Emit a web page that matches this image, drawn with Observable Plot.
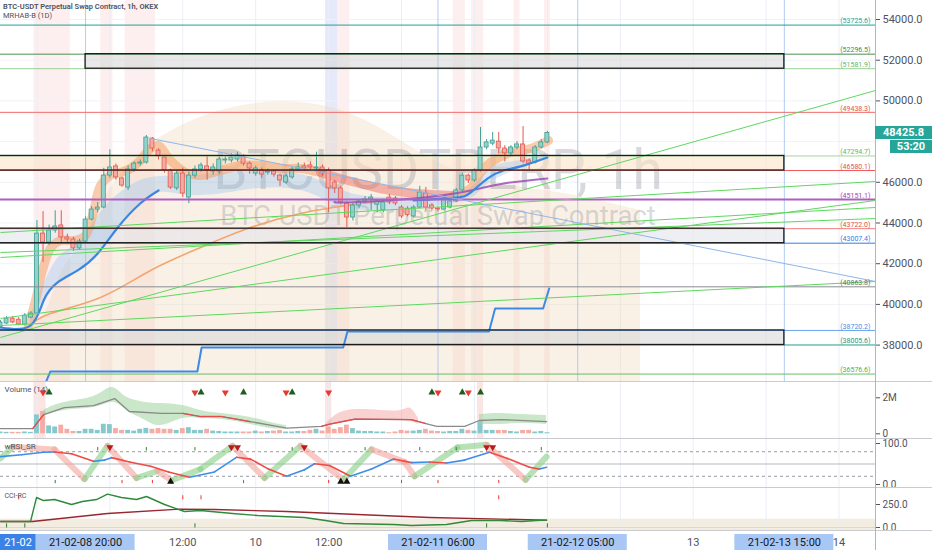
<!DOCTYPE html>
<html><head><meta charset="utf-8">
<script src="https://cdn.jsdelivr.net/npm/d3@7"></script>
<script src="https://cdn.jsdelivr.net/npm/@observablehq/plot@0.6"></script>
<style>
body{margin:0;background:#fff;}
#wrap{position:relative;width:932px;height:550px;overflow:hidden;font-family:Roboto,"DejaVu Sans",sans-serif;background:#fff;}
#wrap svg{position:absolute;left:0;}
.lbl{position:absolute;white-space:nowrap;color:#4c525e;}
.sep{position:absolute;left:0;width:932px;height:1px;background:#c9cbd1;}
</style></head><body><div id="wrap"></div><script>
// ---------------- DATA (hours relative to 21-02-10 00:00) ----------------
const candleStartHour = -42; // first candle 21-02-08 06:00
const opens  = [38870,39060,39300,39250,39010,39350,39550,43480,43040,43630,43880,43290,43190,42750,43090,44170,44660,44760,46330,46780,46190,45740,46630,46920,46970,48150,47560,47220,46580,45700,46430,45250,46330,46630,46780,46530,46530,47070,47070,47120,47270,46920,46430,46580,46480,46530,46330,45990,46240,46630,46780,46830,46680,46730,46580,45990,45700,44960,44270,44860,45060,45160,44900,44620,45250,45200,44760,44700,44320,44760,45450,44860,44710,44660,44760,45060,45600,46330,46090,46580,47710,47900,48000,47660,47420,47710,47860,47070,46970,47710,47960];
const highs  = [39200,39400,39400,39350,39550,39650,44120,44560,43900,44600,44600,43450,43300,43200,44300,44800,45000,46690,47600,46900,46250,46800,47000,47100,48300,48200,47650,47300,46650,46550,46700,46500,46800,46950,47300,46900,47250,47250,47400,47480,47350,47000,46800,46700,46650,46600,46400,46400,46750,46950,46950,47000,47480,46850,46700,46100,45800,45050,44950,45150,45300,45400,45150,45100,45400,45300,44850,44800,44850,45800,45750,44950,44750,45250,45150,45700,46450,46400,46650,48690,48100,48450,48450,47800,47800,48000,48740,47150,47800,48100,48500];
const lows   = [38800,39000,39050,38950,38950,39300,39500,42060,42900,43500,43000,43000,42600,42700,43000,44100,44500,44700,46200,46100,45750,45600,46500,46800,46900,47500,47100,46450,45650,45600,45250,44950,46200,46500,46100,46350,46400,46900,46950,47000,46800,46400,46300,46200,46350,46250,45800,45900,46150,46550,46550,46600,46600,46300,44500,45450,44900,43780,44100,44700,44950,44610,44500,44500,44900,44850,44220,44300,44250,44700,44600,44600,44550,44600,44700,45000,45550,45950,46000,46500,47600,47800,47400,47000,47300,47600,46950,46600,46900,47650,47900];
const closes = [39110,39300,39110,39010,39450,39550,43480,43040,43630,43830,43290,43190,42750,43090,44170,44660,44760,46330,46730,46240,45840,46630,46920,46970,48200,47660,47270,46580,45740,46430,45450,46330,46630,46830,46580,46730,47120,47120,47220,47320,46920,46680,46680,46380,46530,46380,46090,46290,46630,46730,46680,46730,46730,46480,45700,45700,45010,44270,44860,45060,45160,45250,45060,45010,45010,44960,44320,44400,44760,45500,44760,44710,44660,45160,45060,45600,46330,46090,46580,47710,47960,48050,47660,47420,47710,47860,47020,46920,47710,47960,48425.8];
const volumesM = [0.10,0.08,0.08,0.08,0.10,0.08,1.05,1.24,0.44,0.38,0.48,0.25,0.13,0.13,0.25,0.25,0.19,0.53,0.51,0.29,0.19,0.19,0.15,0.25,0.30,0.25,0.29,0.25,0.25,0.19,0.29,0.34,0.19,0.19,0.25,0.15,0.13,0.10,0.10,0.10,0.10,0.10,0.15,0.10,0.13,0.15,0.19,0.10,0.10,0.13,0.13,0.19,0.25,0.15,0.38,0.25,0.34,0.48,0.29,0.15,0.13,0.13,0.10,0.10,0.06,0.10,0.19,0.15,0.15,0.19,0.25,0.15,0.13,0.10,0.13,0.13,0.25,0.19,0.15,0.67,0.19,0.19,0.19,0.19,0.13,0.10,0.19,0.19,0.10,0.13,0.06];

// 48000.0 sits under the last-price tag in the reference, so it is not labelled
const priceTicks = [38000,40000,42000,44000,46000,50000,52000,54000];
const priceGrid = [38000,40000,42000,44000,46000,48000,50000,52000,54000];
const levelValues = [53725.6,52296.5,51581.9,49438.3,47294.7,46580.1,45151.1,43722.0,43007.4,40863.8,38720.2,38005.6,36576.6];
const boxTops    = [52296.5,47294.7,43722.0,38720.2];
const boxBottoms = [51581.9,46580.1,43007.4,38005.6];
const boxStarts  = [-28,-60,-60,-60];
const boxEnds    = [87,87,87,87];
// trend lines: [startHour, startPrice, endHour, endPrice]
const greenTrends = [[-42,38374,102,50511],[-42,43533,102,46039],[-42,39307,102,45106],[-42,42550,102,44221],[-42,42305,102,44762],[-42,38963,102,41125]];
const blueTrend = [[-17.3,48152,102,41125]];
const sessionBands = [[-36.5,-30.5],[-25.5,-23.5],[-21.5,-16.5],[13.5,15.5],[32.5,34.5],[35.5,37.5],[42.5,43.5],[47.5,48.5]];
const blueBands = [[11.5,13.5]];
const gridHours = [-36,-24,-12,0,12,24,36,48,60,72,84,96];
const selectedHours = [-28,30,53,87];

const blueLine1 = [[-42,38865],[-37.1,38960],[-34.9,40190],[-32.6,41080],[-29.3,41670],[-26,42500],[-22.7,43780],[-19,44960],[-16,45600]];
const blueLine2 = [[26,45110],[32.9,45250],[35.4,45500],[38.2,46190],[40.8,46580],[43.6,46780],[48,47220]];
const purpleLine = [[13,45050],[15.1,45010],[26,45200],[35.4,45600],[40.8,45940],[48,46190]];
const orangeThin = [[-37.06,38963],[-33.77,39553],[-25.54,40339],[-17.31,41666],[-9.08,42796],[-0.85,43779],[7.37,44467],[12.8,44762],[17.25,44958],[21,45050]];
const orangeBand1 = [[-37.39,38963],[-36.24,40192],[-35.09,41666],[-33.77,42747],[-32.13,43140],[-29.66,43140],[-28.01,43386],[-26.86,44369],[-25.54,45843],[-23.9,46334],[-22.25,46482],[-20.6,46678],[-18.96,47071],[-17.31,47661],[-16.0,47808],[-14.02,47071],[-11.55,46482],[-9.08,46334],[-5.79,46580],[-2.5,46826],[0.79,46826],[4.08,46678],[7.37,46678],[10.67,46482]];
const redBand = [[10.67,46482],[13.96,46187],[18.4,45843],[22.19,45597],[26.63,45450],[32.56,45352]];
const orangeBand2 = [[32.56,45352],[35.35,45695],[37.0,46482],[38.65,46973],[41.94,47464],[45.23,47661],[48.19,48054]];
// [hour, low edge, high edge]
const blueRibbon = [[-37.06,38914,39455],[-34.59,40192,41174],[-32.13,41076,42403],[-28.83,41666,43140],[-25.54,42649,44516],[-22.25,43877,45499],[-18.96,44909,46088],[-15.67,45499,46285],[-10.73,45351,46334],[-4.15,45499,46482],[0.79,45695,46580],[7.37,45597,46383],[12.31,45008,45843],[17.25,44614,45351],[23.83,44614,45253],[30.42,44860,45351],[35.35,45204,45695],[38.65,45990,46678],[43.58,46678,47071],[48.19,47169,47415]];
const cloudTop = [[-42,38800],[-37.06,38900],[-34.59,39209],[-32.13,41912],[-28.83,42649],[-25.54,45106],[-20.6,47071],[-15.67,48300],[-9.08,49283],[-0.85,49921],[7.37,50020],[15.6,49529],[23.83,48054],[32.06,46580],[40.29,45843],[48.52,45597],[56.75,45106],[63.33,44614]];
const stepLine = [[-34.5,36200],[-33.8,36700],[-9.6,36700],[-8.9,37880],[14.4,37880],[15.1,38670],[38.4,38670],[39.4,39800],[47.3,39800],[48.3,40780]];

// volume pane
const volMA = [[-42,0.29],[-36.7,0.29],[-34.9,1.07],[-31.5,1.46],[-26.7,1.57],[-23.2,1.96],[-20.8,1.24],[-15.5,1.13],[-12,1.13],[-9.1,0.96],[-5.6,0.96],[-0.9,0.68],[5.1,0.32],[10.8,0.41],[12.2,0.54],[16.3,0.82],[25.6,0.79],[28,0.57],[29.8,0.41],[34.4,0.41],[36.8,0.74],[40.3,0.79],[47.9,0.68]];
const volMARed = [[[-36.7,0.29],[-34.9,1.07]],[[-12,1.13],[-9.1,0.96],[-5.6,0.96],[-0.9,0.68]],[[10.8,0.41],[12.2,0.54],[16.3,0.82],[25.6,0.79],[28,0.57]]];
const volBandGreen1 = [[-34.92,0.96,1.30],[-31.47,1.30,1.74],[-26.69,1.46,2.07],[-23.9,1.74,2.57],[-22.25,1.57,2.30],[-20.77,1.18,1.96],[-18.14,0.74,1.74],[-15.5,0.46,1.68],[-12.05,0.85,1.57],[-9.08,0.85,1.30],[-5.63,0.79,1.13],[-0.85,0.52,0.91],[2.44,0.29,0.63],[5.07,0.24,0.46]];
const volBandRed = [[11.49,0.41,0.52],[13.96,0.63,1.18],[17.25,0.74,1.35],[20.54,0.74,1.30],[23.83,0.74,1.30],[25.48,0.68,1.41],[26.8,0.52,0.85]];
const volBandGreen2 = [[36.83,0.52,1.07],[40.29,0.52,1.13],[43.58,0.57,1.07],[47.86,0.52,1.02]];
const volSignalDown = [-35,-10,-5,5,12,30,35];
const volSignalUp = [-34,-9,-2,6,29,34,37];
const volHighlight = [[-36.5,-34.5],[11.5,12.5],[36.5,37.5]];

// wRSI pane
const rsiMain = [[-42,68],[-38.54,72.5],[-34.92,78.5],[-33.11,79.4],[-30.31,75],[-26.69,56.8],[-24.88,59.5],[-23.73,65.5],[-20.77,55],[-17.31,44.6],[-14.35,30.7],[-10.89,17.6],[-6.78,30.7],[-3.16,66.3],[-0.85,62],[2.11,37.6],[5.07,20.2],[8.03,35.9],[9.68,50.7],[12.15,46.3],[15.6,20.2],[19.06,37.6],[22.68,62],[25.64,53.4],[28.6,55],[31.4,52.4],[34.37,59.5],[38.48,78.5],[41.44,63.7],[45.06,42],[46.71,37.6],[47.86,42]];
const rsiFast = [[-42,63.7],[-39.94,91.7],[-33.11,85.6],[-28.17,13.2],[-24.39,94.2],[-19.62,15.9],[-16.16,33],[-13.86,9.8],[-9.08,37.6],[-3.82,94],[1.45,15.9],[7.37,94],[14.45,11.5],[19.06,85.6],[24.49,55],[26.14,20],[33.21,90],[37.99,96.8],[44.41,11.5],[47.86,68]];
const rsiSellMarks = [-24,-4,-3,8,38,39];
const rsiBuyMarks = [-14,14,15];
const rsiGreenTopTicks = [-26,-18,-10,6,18,27,33,47];
const rsiGreenBottomTicks = [-33];
const rsiRedBottomTicks = [-22,-17,-2,12,24,30,40];

// CCI pane
const cciGreen = [[-42,65],[-37.06,65],[-36.07,326],[-34.92,293],[-33.11,304],[-30.31,250],[-28.5,283],[-26.2,304],[-24.39,363],[-22.09,326],[-19.62,304],[-17.97,337],[-15.01,250],[-13.2,207],[-11.72,174],[-9.08,185],[-3.82,152],[0.3,130],[8.03,109],[11.49,76],[14.45,43],[22.68,33],[25.64,22],[31.4,33],[35.52,76],[40.29,76],[43.75,65],[46.22,76],[47.86,80]];
const cciRed = [[-42,65],[-36.73,65],[-24.39,152],[-12.54,200],[-6.78,196],[5.07,174],[16.76,141],[28.6,109],[40.29,91],[47.86,80]];
const cciRedTicks = [-39,-12,-9,40];
const cciGreenTicks = [-41,-38,-10,38,48];

// time axis (labels hidden under the boxed labels are left out)
const axisTickHours  = [-12,0,12,72,96];
const axisTickLabels = ["12:00","10","12:00","13","14"];
const boxedHours  = [-28,30,53,87];
const boxedLabels = ["21-02-08 20:00","21-02-11 06:00","21-02-12 05:00","21-02-13 15:00"];

// ---------------- STYLES ----------------
const levelStroke = ["#1fa396","#4b8f52","#98d195","#f06a6a","#a3d69d","#ee5c5c","#ad5fc1","#f07d7d","#2f7fe6","#8a8d95","#6aa3f0","#2fa391","#69bd69"];
const levelLabelFill = ["#1fa396","#3f8a47","#66b564","#e35050","#66b564","#e35050","#9b44b0","#e35050","#2f7fe6","#6b6e76","#4d8fe8","#1f9484","#4caf50"];
const boxFill = ["#d9d9d9","#fbe3c8","#e3e4ea","#d9d9d9"];
const UP_FILL="#93d2cb", UP_STROKE="#3f9f92", DN_FILL="#f5aaa3", DN_STROKE="#e05a50";
const W=932, MR=57, FONT="Roboto, 'DejaVu Sans', sans-serif";
const xDomain=[-42,102];
const PRICE_DOMAIN=[36211,54934];

// ---------------- BUILD ----------------
const candles = opens.map((o,i)=>({h:candleStartHour+i,o,hi:highs[i],lo:lows[i],c:closes[i],v:volumesM[i],up:closes[i]>=o}));
const levels = levelValues.map((v,i)=>({v,i}));
const boxes = boxTops.map((t,i)=>({t,b:boxBottoms[i],s:boxStarts[i],e:boxEnds[i],i}));
function segments(pts){const out=[];for(let i=1;i<pts.length;i++)out.push({x1:pts[i-1][0],y1:pts[i-1][1],x2:pts[i][0],y2:pts[i][1],up:pts[i][1]>=pts[i-1][1]});return out;}
const wrap=document.getElementById("wrap");
function place(svg,top){svg.style.top=top+"px";wrap.appendChild(svg);return svg;}
const baseStyle={fontFamily:FONT,fontSize:"11px",color:"#50535e",background:"transparent",overflow:"visible"};
const subStyle={...baseStyle,fontSize:"10px"};
const common={width:W,marginLeft:0,marginRight:MR,x:{domain:xDomain,axis:null},style:baseStyle};

// MAIN PANE
const cloudData = cloudTop.map(d=>({h:d[0],top:d[1]}));
const main = Plot.plot({...common,height:381,marginTop:0,marginBottom:0,
  y:{domain:PRICE_DOMAIN,axis:"right",ticks:priceTicks,tickFormat:d=>d.toFixed(1),tickSize:4,tickPadding:3,label:null},
  marks:[
    Plot.rect(sessionBands,{x1:d=>d[0],x2:d=>d[1],y1:PRICE_DOMAIN[0],y2:PRICE_DOMAIN[1],fill:"#f7c4c4",fillOpacity:0.28}),
    Plot.rect(blueBands,{x1:d=>d[0],x2:d=>d[1],y1:PRICE_DOMAIN[0],y2:PRICE_DOMAIN[1],fill:"#c7cff5",fillOpacity:0.45}),
    Plot.ruleY(priceGrid,{stroke:"#f0f2f7"}),
    Plot.ruleX(gridHours,{stroke:"#eaeef5"}),
    Plot.areaY(cloudData,{x:"h",y1:PRICE_DOMAIN[0],y2:"top",fill:"#f0d3b0",fillOpacity:0.32,curve:"basis",clip:true}),
    Plot.text(["BTCUSDTPERP, 1h"],{frameAnchor:"middle",dy:-20,fontSize:55,fill:"#7d808a",fillOpacity:0.3,fontFamily:FONT}),
    Plot.text(["BTC-USDT Perpetual Swap Contract"],{frameAnchor:"middle",dy:25,fontSize:27.5,fill:"#7d808a",fillOpacity:0.3,fontFamily:FONT}),
    Plot.rect(boxes,{x1:"s",x2:"e",y1:"b",y2:"t",fill:d=>boxFill[d.i],fillOpacity:0.6,clip:true}),
    Plot.areaY(blueRibbon,{x:d=>d[0],y1:d=>d[1],y2:d=>d[2],fill:"#8fbff0",fillOpacity:0.35,curve:"natural"}),
    Plot.line(orangeThin,{x:d=>d[0],y:d=>d[1],stroke:"#f3a56f",strokeWidth:1.6,curve:"natural"}),
    Plot.line(orangeBand1,{x:d=>d[0],y:d=>d[1],stroke:"#f39a5e",strokeWidth:9,strokeOpacity:0.5,curve:"catmull-rom",strokeLinecap:"round"}),
    Plot.line(redBand,{x:d=>d[0],y:d=>d[1],stroke:"#ec6f62",strokeWidth:9,strokeOpacity:0.5,curve:"catmull-rom",strokeLinecap:"round"}),
    Plot.line(orangeBand2,{x:d=>d[0],y:d=>d[1],stroke:"#f39a5e",strokeWidth:9,strokeOpacity:0.5,curve:"catmull-rom",strokeLinecap:"round"}),
    Plot.ruleX(selectedHours,{stroke:"#9ebfee",strokeOpacity:0.8}),
    Plot.ruleX(candles,{x:"h",y1:"lo",y2:"hi",stroke:d=>d.up?UP_STROKE:DN_STROKE,strokeWidth:1}),
    Plot.rect(candles,{x1:d=>d.h-0.33,x2:d=>d.h+0.33,y1:"o",y2:"c",fill:d=>d.up?UP_FILL:DN_FILL,stroke:d=>d.up?UP_STROKE:DN_STROKE,strokeWidth:0.8}),
    Plot.line(purpleLine,{x:d=>d[0],y:d=>d[1],stroke:"#9b4fb2",strokeWidth:2,strokeOpacity:0.85,curve:"natural"}),
    Plot.line(blueLine1,{x:d=>d[0],y:d=>d[1],stroke:"#3b87e0",strokeWidth:2.2,curve:"natural",clip:true}),
    Plot.line(blueLine2,{x:d=>d[0],y:d=>d[1],stroke:"#3b87e0",strokeWidth:2.2,curve:"natural"}),
    Plot.line(stepLine,{x:d=>d[0],y:d=>d[1],stroke:"#3b8be6",strokeWidth:2,clip:true}),
    Plot.ruleY(levels,{y:"v",stroke:d=>levelStroke[d.i],strokeWidth:d=>d.i===6?2:1}),
    Plot.link(greenTrends,{x1:d=>d[0],y1:d=>d[1],x2:d=>d[2],y2:d=>d[3],stroke:"#5fd85f",strokeWidth:1,clip:true}),
    Plot.link(blueTrend,{x1:d=>d[0],y1:d=>d[1],x2:d=>d[2],y2:d=>d[3],stroke:"#8db6ea",strokeWidth:1,clip:true}),
    Plot.rect(boxes,{x1:"s",x2:"e",y1:"b",y2:"t",fill:"none",stroke:"#1c1c1c",strokeWidth:1.3,clip:true}),
    Plot.text(levels,{y:"v",frameAnchor:"right",dx:-5,dy:-4,text:d=>`(${d.v.toFixed(1)})`,textAnchor:"end",fontSize:7,fill:d=>levelLabelFill[d.i]})
  ]});
place(main,0);

// VOLUME PANE
const volDomain=[-0.261,2.906];
const vol = Plot.plot({...common,style:subStyle,height:57,marginTop:0,marginBottom:0,
  y:{domain:volDomain,axis:"right",ticks:[0,2],tickFormat:d=>d===0?"0":d+"M",tickSize:4,tickPadding:3,label:null},
  marks:[
    Plot.rect(volHighlight,{x1:d=>d[0],x2:d=>d[1],y1:volDomain[0],y2:volDomain[1],fill:"#f7c4c4",fillOpacity:0.45}),
    Plot.ruleX(gridHours,{stroke:"#eaeef5"}),
    Plot.rect(candles,{x1:d=>d.h-0.4,x2:d=>d.h+0.4,y1:0,y2:"v",fill:d=>d.up?"#86c9cd":"#f5aca4"}),
    Plot.areaY(volBandGreen1,{x:d=>d[0],y1:d=>d[1],y2:d=>d[2],fill:"#9fd49d",fillOpacity:0.55,curve:"natural"}),
    Plot.areaY(volBandRed,{x:d=>d[0],y1:d=>d[1],y2:d=>d[2],fill:"#f19a9a",fillOpacity:0.45,curve:"natural"}),
    Plot.areaY(volBandGreen2,{x:d=>d[0],y1:d=>d[1],y2:d=>d[2],fill:"#9fd49d",fillOpacity:0.55,curve:"natural"}),
    Plot.line(volMA,{x:d=>d[0],y:d=>d[1],stroke:"#8a8a8a",strokeWidth:1.3}),
    ...volMARed.map(seg=>Plot.line(seg,{x:d=>d[0],y:d=>d[1],stroke:"#e84a4a",strokeWidth:1.2})),
    Plot.dot(volSignalDown,{x:d=>d,y:2.3,symbol:"triangle",rotate:180,r:2.6,fill:"#e53935",stroke:"none"}),
    Plot.dot(volSignalUp,{x:d=>d,y:2.3,symbol:"triangle",r:2.6,fill:"#1b5e20",stroke:"none"}),
    Plot.text(["Volume (14)"],{frameAnchor:"top-left",dx:4,dy:5,fontSize:8,fill:"#50535e"})
  ]});
place(vol,381);

// wRSI PANE
const rsiDomain=[-7.3,112.2];
const rsi = Plot.plot({...common,style:subStyle,height:49,marginTop:0,marginBottom:0,
  y:{domain:rsiDomain,axis:"right",ticks:[0,100],tickFormat:d=>d.toFixed(1),tickSize:4,tickPadding:3,label:null},
  marks:[
    Plot.ruleX(gridHours,{stroke:"#eaeef5"}),
    Plot.ruleY([80,20],{stroke:"#9a9ca3",strokeDasharray:"3,3"}),
    Plot.ruleY([50],{stroke:"#b5b7bd"}),
    Plot.link(segments(rsiFast),{x1:"x1",y1:"y1",x2:"x2",y2:"y2",stroke:d=>d.up?"#86cf85":"#f3a59d",strokeWidth:6,strokeOpacity:0.6,strokeLinecap:"round"}),
    Plot.link(segments(rsiMain),{x1:"x1",y1:"y1",x2:"x2",y2:"y2",stroke:d=>d.up?"#3d8ee8":"#ef4b45",strokeWidth:1.6,strokeLinecap:"round"}),
    Plot.dot(rsiSellMarks,{x:d=>d,y:91,symbol:"triangle",rotate:180,r:2.6,fill:"#b71c1c"}),
    Plot.dot(rsiBuyMarks,{x:d=>d,y:7,symbol:"triangle",r:2.6,fill:"#111"}),
    Plot.ruleX(rsiGreenTopTicks,{y1:82,y2:90,stroke:"#2e7d32",strokeWidth:1}),
    Plot.ruleX(rsiGreenBottomTicks,{y1:2,y2:10,stroke:"#2e7d32",strokeWidth:1}),
    Plot.ruleX(rsiRedBottomTicks,{y1:2,y2:10,stroke:"#e53935",strokeWidth:1}),
    Plot.text(["wRSI_SR"],{frameAnchor:"top-left",dx:4,dy:5,fontSize:8,fill:"#50535e"})
  ]});
place(rsi,438);

// CCI PANE
const cciDomain=[-43.5,434.8];
const cci = Plot.plot({...common,style:subStyle,height:44,marginTop:0,marginBottom:0,
  y:{domain:cciDomain,axis:"right",ticks:[0,250],tickFormat:d=>d.toFixed(1),tickSize:4,tickPadding:3,label:null},
  marks:[
    Plot.rect([cciDomain],{x1:xDomain[0],x2:xDomain[1],y1:cciDomain[0],y2:90,fill:"#efe7da",fillOpacity:0.8}),
    Plot.ruleX(gridHours,{stroke:"#eaeef5"}),
    Plot.ruleY([0],{stroke:"#d8d8d8"}),
    Plot.line(cciRed,{x:d=>d[0],y:d=>d[1],stroke:"#9a2630",strokeWidth:1.4}),
    Plot.line(cciGreen,{x:d=>d[0],y:d=>d[1],stroke:"#2f8a3a",strokeWidth:1.4}),
    Plot.ruleX(cciRedTicks,{y1:300,y2:345,stroke:"#e53935"}),
    Plot.ruleX(cciGreenTicks,{y1:-5,y2:40,stroke:"#2e7d32"}),
    Plot.text(["CCI-RC"],{frameAnchor:"top-left",dx:4,dy:6,fontSize:7,fill:"#50535e"})
  ]});
place(cci,487);

// TIME AXIS
const boxed = boxedHours.map((h,i)=>({h,label:boxedLabels[i]}));
const ticksData = axisTickHours.map((h,i)=>({h,label:axisTickLabels[i]}));
const taxis = Plot.plot({...common,height:19,marginTop:3,marginBottom:0,
  y:{domain:[0,1],axis:null},
  marks:[
    Plot.text(ticksData,{x:"h",y:0.5,text:"label",fontSize:11,fill:"#50535e"}),
    Plot.rect([xDomain],{x1:xDomain[0],x2:-36.1,y1:0,y2:1,fill:"#3b82e6"}),
    Plot.text(["21-02"],{x:-41.4,y:0.5,text:d=>d,textAnchor:"start",fontSize:11,fill:"#fff"}),
    Plot.rect(boxed,{x1:d=>d.h-8.15,x2:d=>d.h+8.15,y1:0,y2:1,fill:"#a9c7f5"}),
    Plot.text(boxed,{x:"h",y:0.5,text:"label",fontSize:11,fill:"#131722"})
  ]});
place(taxis,531);

// separators and axis line
[381,438,487,530].forEach(t=>{const d=document.createElement("div");d.className="sep";d.style.top=t+"px";wrap.appendChild(d);});
const ax=document.createElement("div");ax.style.cssText="position:absolute;left:875px;top:0;width:1px;height:550px;background:#b2b5be;";wrap.appendChild(ax);

// header labels
function label(txt,top,size,weight){const d=document.createElement("div");d.className="lbl";d.textContent=txt;d.style.cssText+=`left:3px;top:${top}px;font-size:${size}px;font-weight:${weight};`;wrap.appendChild(d);}
label("BTC-USDT Perpetual Swap Contract, 1h, OKEX",2,7.5,600);
label("MRHAB-B (1D)",11,7.5,400);

// last price tag via the y scale
const yLast = main.scale("y").apply(closes[closes.length-1]);
const tag=document.createElement("div");
tag.style.cssText=`position:absolute;left:875px;top:${yLast-6.5}px;width:57px;height:13px;background:#26a69a;color:#fff;font:bold 11px ${FONT};line-height:13px;text-align:center;`;
tag.textContent=closes[closes.length-1].toFixed(1);wrap.appendChild(tag);
const tag2=document.createElement("div");
tag2.style.cssText=`position:absolute;left:890px;top:${yLast+7.5}px;width:42px;height:13px;background:#26a69a;color:#fff;font:bold 11px ${FONT};line-height:13px;text-align:center;`;
tag2.textContent="53:20";wrap.appendChild(tag2);
</script></body></html>
